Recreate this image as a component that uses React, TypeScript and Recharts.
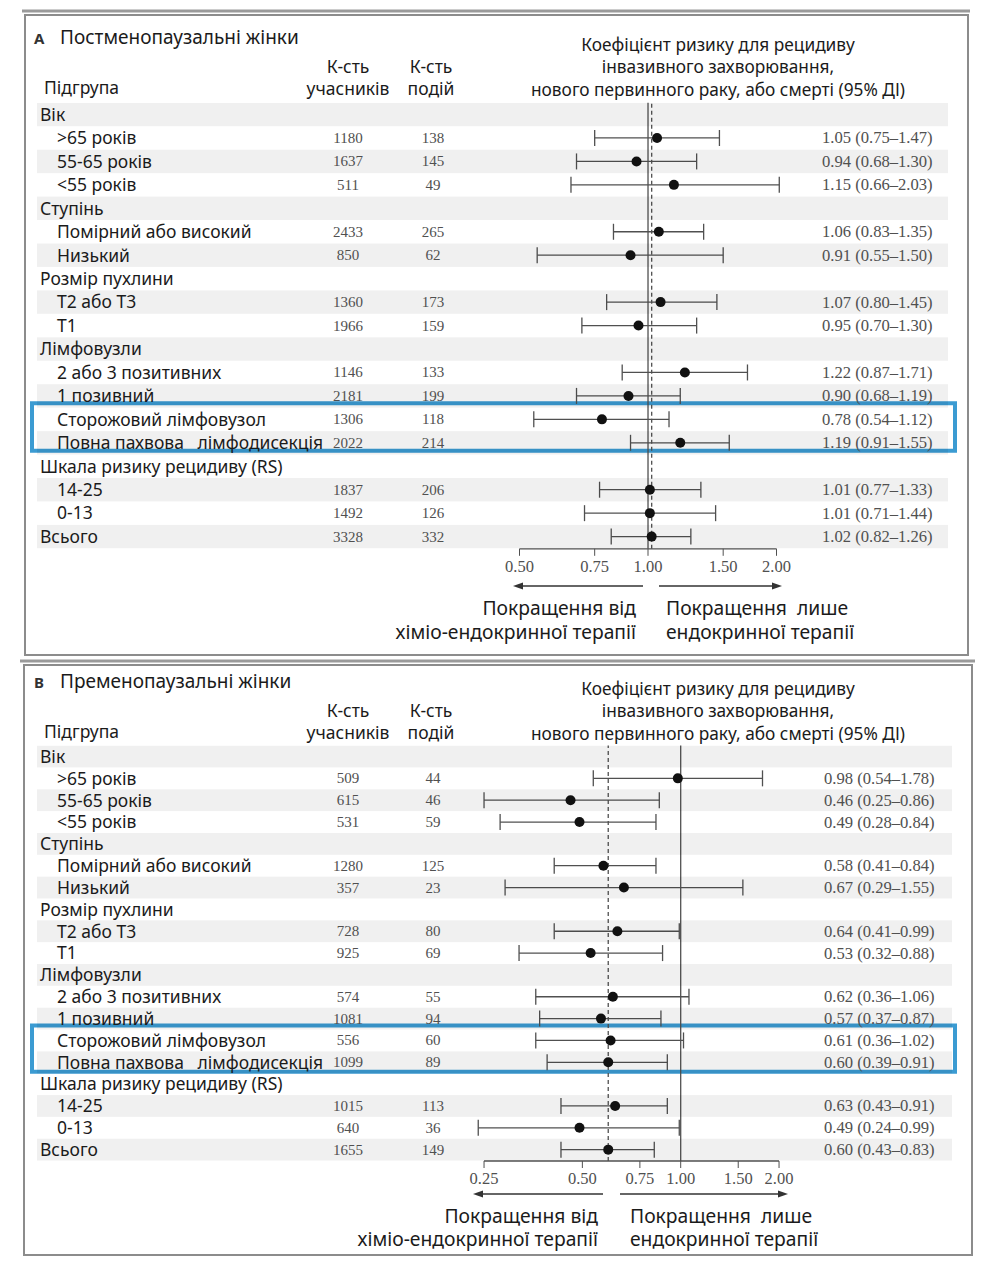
import React from "react";
import { ScatterChart, Scatter, XAxis, YAxis, ErrorBar, ReferenceLine, ReferenceArea } from "recharts";

const SANS = '"Noto Sans", "Open Sans", sans-serif';
const SERIF = '"Liberation Serif", "DejaVu Serif", serif';
const INK = "#1b1b1b";
const GREY = "#505050";
const BLUE = "#3b9bd2";

const rowLabels = [
  "Вік", ">65 років", "55-65 років", "<55 років",
  "Ступінь", "Помірний або високий", "Низький",
  "Розмір пухлини", "T2 або T3", "T1",
  "Лімфовузли", "2 або 3 позитивних", "1 позивний", "Сторожовий лімфовузол", "Повна пахвова\u00a0\u00a0 лімфодисекція",
  "Шкала ризику рецидиву (RS)", "14-25", "0-13", "Всього",
];
const rowIndent = [0, 1, 1, 1, 0, 1, 1, 0, 1, 1, 0, 1, 1, 1, 1, 0, 1, 1, 0];
const rowIndex = rowLabels.map((_, i) => i);

// A - postmenopausal
const postParticipants = [null, 1180, 1637, 511, null, 2433, 850, null, 1360, 1966, null, 1146, 2181, 1306, 2022, null, 1837, 1492, 3328];
const postEvents = [null, 138, 145, 49, null, 265, 62, null, 173, 159, null, 133, 199, 118, 214, null, 206, 126, 332];
const postHr = [null, 1.05, 0.94, 1.15, null, 1.06, 0.91, null, 1.07, 0.95, null, 1.22, 0.9, 0.78, 1.19, null, 1.01, 1.01, 1.02];
const postLow = [null, 0.75, 0.68, 0.66, null, 0.83, 0.55, null, 0.8, 0.7, null, 0.87, 0.68, 0.54, 0.91, null, 0.77, 0.71, 0.82];
const postHigh = [null, 1.47, 1.3, 2.03, null, 1.35, 1.5, null, 1.45, 1.3, null, 1.71, 1.19, 1.12, 1.55, null, 1.33, 1.44, 1.26];
const postTicks = [0.5, 0.75, 1, 1.5, 2];
const postOverall = 1.02;

// B - premenopausal
const preParticipants = [null, 509, 615, 531, null, 1280, 357, null, 728, 925, null, 574, 1081, 556, 1099, null, 1015, 640, 1655];
const preEvents = [null, 44, 46, 59, null, 125, 23, null, 80, 69, null, 55, 94, 60, 89, null, 113, 36, 149];
const preHr = [null, 0.98, 0.46, 0.49, null, 0.58, 0.67, null, 0.64, 0.53, null, 0.62, 0.57, 0.61, 0.6, null, 0.63, 0.49, 0.6];
const preLow = [null, 0.54, 0.25, 0.28, null, 0.41, 0.29, null, 0.41, 0.32, null, 0.36, 0.37, 0.36, 0.39, null, 0.43, 0.24, 0.43];
const preHigh = [null, 1.78, 0.86, 0.84, null, 0.84, 1.55, null, 0.99, 0.88, null, 1.06, 0.87, 1.02, 0.91, null, 0.91, 0.99, 0.83];
const preTicks = [0.25, 0.5, 0.75, 1, 1.5, 2];
const preOverall = 0.6;

type Num = number | null;
type Series = { participants: Num[]; events: Num[]; hr: Num[]; low: Num[]; high: Num[] };
type Layout = {
  top: number;
  marginTop: number;
  marginBottom: number;
  pitch: number;
  domain: [number, number];
  stripeRight: number;
  hrX: number;
  box: [number, number];
};

const Y_MAX = 18.52;
const fmt = (v: number) => v.toFixed(2);

// one table row: stripe, label, counts and the HR text, placed at the row's scaled y
function RowShape({ cy, payload, s, lay }: any) {
  const i = payload.row as number;
  const y = cy;
  const hr = s.hr[i];
  const n = s.participants[i];
  const ev = s.events[i];
  return (
    <g>
      {i % 2 === 0 && (
        <rect x={37} y={y - lay.pitch / 2} width={lay.stripeRight - 37} height={lay.pitch} fill="#000" fillOpacity={0.06} />
      )}
      <text x={rowIndent[i] ? 57 : 40} y={y} dy="0.36em" fontFamily={SANS} fontSize={17.5} fill={INK}>
        {rowLabels[i]}
      </text>
      {n != null && (
        <text x={348} y={y} dy="0.33em" textAnchor="middle" fontFamily={SERIF} fontSize={15} fill={GREY}>
          {n}
        </text>
      )}
      {ev != null && (
        <text x={433} y={y} dy="0.33em" textAnchor="middle" fontFamily={SERIF} fontSize={15} fill={GREY}>
          {ev}
        </text>
      )}
      {hr != null && (
        <text x={lay.hrX} y={y} dy="0.33em" fontFamily={SERIF} fontSize={16.6} fill={GREY}>
          {`${fmt(hr)} (${fmt(s.low[i])}–${fmt(s.high[i])})`}
        </text>
      )}
    </g>
  );
}

function Dot(props: any) {
  return <circle cx={props.cx} cy={props.cy} r={5} fill="#111" />;
}

function ForestPanel({ s, ticks, overall, lay }: { s: Series; ticks: number[]; overall: number; lay: Layout }) {
  const rows = rowIndex.map((i) => ({ hr: 1, row: i }));
  const points = s.hr.flatMap((hr, i) =>
    hr == null ? [] : [{ hr, row: i, ci: [hr - (s.low[i] as number), (s.high[i] as number) - hr] }]
  );
  return (
    <div style={{ position: "absolute", left: 0, top: lay.top }}>
      <ScatterChart
        width={988}
        height={600}
        margin={{ top: lay.marginTop, right: 33, bottom: lay.marginBottom, left: 32 }}
      >
        <YAxis type="number" dataKey="row" domain={[-0.5, Y_MAX]} reversed allowDataOverflow hide />
        <XAxis
          type="number"
          dataKey="hr"
          scale="log"
          domain={lay.domain}
          allowDataOverflow
          ticks={ticks}
          interval={0}
          tickFormatter={(v: number) => v.toFixed(2)}
          axisLine={false}
          tickSize={7}
          tickMargin={4}
          tickLine={{ stroke: GREY }}
          height={30}
          tick={{ fontFamily: SERIF, fontSize: 16.5, fill: GREY }}
        />
        <Scatter data={rows} isAnimationActive={false} shape={(p: any) => <RowShape {...p} s={s} lay={lay} />} />
        <ReferenceLine
          segment={[{ x: ticks[0], y: Y_MAX }, { x: ticks[ticks.length - 1], y: Y_MAX }]}
          stroke={GREY}
          strokeWidth={1.3}
          ifOverflow="visible"
        />
        <ReferenceLine x={1} stroke={GREY} strokeWidth={1.3} />
        <ReferenceLine x={overall} stroke={GREY} strokeWidth={1.3} strokeDasharray="4 3" />
        <Scatter data={points} isAnimationActive={false} shape={Dot}>
          <ErrorBar dataKey="ci" direction="x" width={8} stroke={GREY} strokeWidth={1.3} />
        </Scatter>
        <ReferenceArea
          x1={lay.domain[0]}
          x2={lay.domain[1]}
          y1={lay.box[0]}
          y2={lay.box[1]}
          fill="none"
          fillOpacity={0}
          stroke={BLUE}
          strokeWidth={4}
          ifOverflow="visible"
        />
      </ScatterChart>
    </div>
  );
}

function Txt({
  x, y, children, align = "left", size = 17.5, weight = 400, color = INK, lineHeight = 1,
}: {
  x: number; y: number; children: React.ReactNode; align?: "left" | "center" | "right";
  size?: number; weight?: number; color?: string; lineHeight?: number | string;
}) {
  const tx = align === "center" ? "-50%" : align === "right" ? "-100%" : "0";
  return (
    <div
      style={{
        position: "absolute", left: x, top: y, transform: `translate(${tx}, -50%)`, textAlign: align,
        fontFamily: SANS, fontSize: size, lineHeight, whiteSpace: "pre", color, fontWeight: weight,
      }}
    >
      {children}
    </div>
  );
}

function Arrow({ x1, x2, y }: { x1: number; x2: number; y: number }) {
  const d = x2 > x1 ? 1 : -1;
  return (
    <g>
      <line x1={x1} y1={y} x2={x2 - d * 8} y2={y} stroke="#333" strokeWidth={1.5} />
      <polygon points={`${x2},${y} ${x2 - d * 10},${y - 3.5} ${x2 - d * 10},${y + 3.5}`} fill="#333" />
    </g>
  );
}

function Headers({ title, letter, y0 }: { title: string; letter: string; y0: number }) {
  return (
    <>
      <Txt x={34} y={y0 + 1} size={15} weight={700} color="#333">{letter}</Txt>
      <Txt x={60} y={y0} size={19}>{title}</Txt>
      <Txt x={44} y={y0 + 51}>Підгрупа</Txt>
      <Txt x={348} y={y0 + 40} align="center" lineHeight="22px">{"К-сть\nучасників"}</Txt>
      <Txt x={431} y={y0 + 40} align="center" lineHeight="22px">{"К-сть\nподій"}</Txt>
      <Txt x={718} y={y0 + 30.5} align="center" size={17.3} lineHeight="22.5px">
        {"Коефіцієнт ризику для рецидиву\nінвазивного захворювання,\nнового первинного раку, або смерті (95% ДІ)"}
      </Txt>
    </>
  );
}

const postLayout: Layout = {
  top: 0, marginTop: 102.8, marginBottom: 21.2, pitch: 23.45,
  domain: [0.03605, 5.238], stripeRight: 948, hrX: 822, box: [12.31, 14.34],
};
const preLayout: Layout = {
  top: 640, marginTop: 105.6, marginBottom: 49, pitch: 21.84,
  domain: [0.01033, 6.914], stripeRight: 952, hrX: 824, box: [12.32, 14.43],
};

export default function App() {
  const post: Series = { participants: postParticipants, events: postEvents, hr: postHr, low: postLow, high: postHigh };
  const pre: Series = { participants: preParticipants, events: preEvents, hr: preHr, low: preLow, high: preHigh };
  return (
    <div style={{ position: "absolute", left: 0, top: 0, width: 988, height: 1280, background: "#fff", overflow: "hidden" }}>
      <svg width={988} height={1280} style={{ position: "absolute", left: 0, top: 0 }}>
        <line x1={22} y1={11} x2={970} y2={11} stroke="#9a9a9a" strokeWidth={3} />
        <rect x={25} y={15} width={943} height={640} fill="none" stroke="#8c8c8c" strokeWidth={2} />
        <line x1={20} y1={661} x2={975} y2={661} stroke="#9a9a9a" strokeWidth={3} />
        <rect x={24} y={665} width={948} height={590} fill="none" stroke="#8c8c8c" strokeWidth={2} />
        <Arrow x1={643} x2={513} y={586} />
        <Arrow x1={659} x2={782} y={586} />
        <Arrow x1={603} x2={473} y={1194} />
        <Arrow x1={620} x2={788} y={1194} />
      </svg>

      <ForestPanel s={post} ticks={postTicks} overall={postOverall} lay={postLayout} />
      <ForestPanel s={pre} ticks={preTicks} overall={preOverall} lay={preLayout} />

      <Headers letter="A" title="Постменопаузальні жінки" y0={37} />
      <Txt x={636} y={620} align="right" size={19.3} lineHeight="24px">{"Покращення від\nхіміо-ендокринної терапії"}</Txt>
      <Txt x={666} y={620} size={19.3} lineHeight="24px">{"Покращення  лише\nендокринної терапії"}</Txt>

      <Headers letter="B" title="Пременопаузальні жінки" y0={681} />
      <Txt x={598} y={1226.5} align="right" size={19.3} lineHeight="23px">{"Покращення від\nхіміо-ендокринної терапії"}</Txt>
      <Txt x={630} y={1226.5} size={19.3} lineHeight="23px">{"Покращення  лише\nендокринної терапії"}</Txt>
    </div>
  );
}
